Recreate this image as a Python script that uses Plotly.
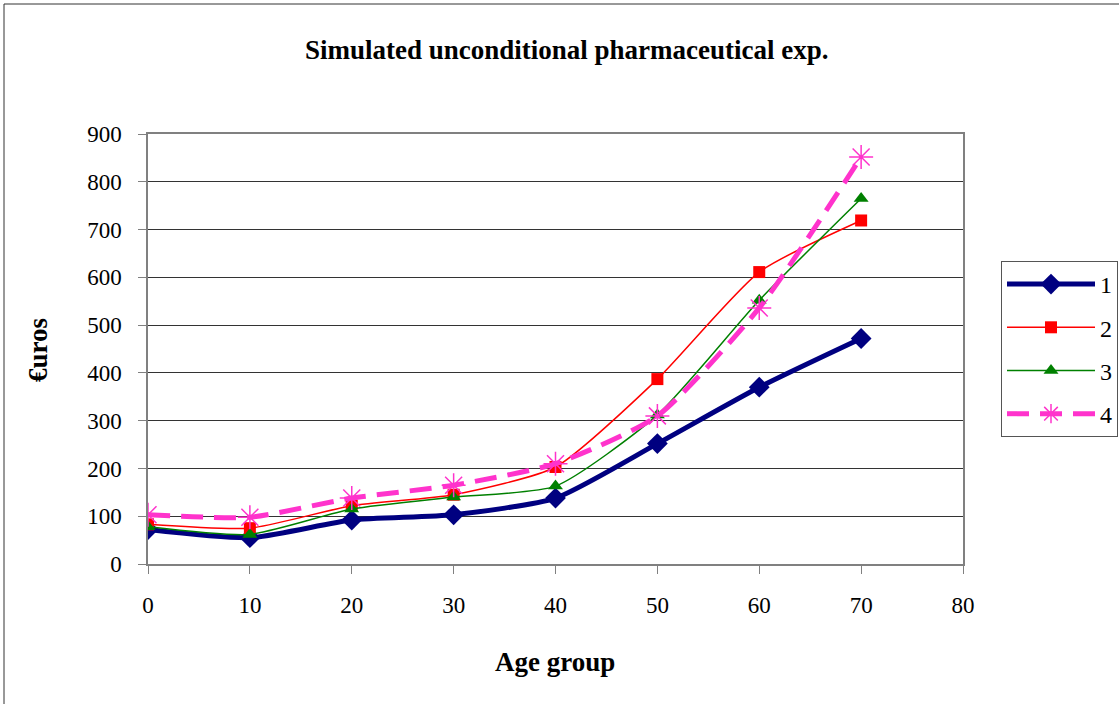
import plotly.graph_objects as go

ages = [0, 10, 20, 30, 40, 50, 60, 70]
s1 = [72, 55, 92, 103, 138, 252, 370, 472]
s2 = [83, 75, 122, 145, 203, 387, 611, 719]
s3 = [78, 62, 115, 140, 163, 312, 552, 765]
s4 = [103, 98, 138, 165, 210, 310, 536, 852]
names = ["1", "2", "3", "4"]

FONT = "Liberation Serif"

fig = go.Figure()
fig.add_trace(go.Scatter(x=ages, y=s1, name=names[0], mode="lines+markers", legendgroup="a",
                         line=dict(color="#000080", width=5, shape="spline", smoothing=0.6),
                         marker=dict(symbol="diamond", size=16, color="#000080")))
fig.add_trace(go.Scatter(x=ages, y=s2, name=names[1], mode="lines+markers", legendgroup="b",
                         line=dict(color="#FF0000", width=1.5, shape="spline", smoothing=0.6),
                         marker=dict(symbol="square", size=12, color="#FF0000")))
fig.add_trace(go.Scatter(x=ages, y=s3, name=names[2], mode="lines+markers", legendgroup="c",
                         line=dict(color="#008000", width=1.5, shape="spline", smoothing=0.6),
                         marker=dict(symbol="triangle-up", size=13, color="#008000")))
fig.add_trace(go.Scatter(x=ages, y=s4, name=names[3], mode="lines+markers", legendgroup="d",
                         line=dict(color="#FF33CC", width=5, dash="22px,11px", shape="spline", smoothing=0.6),
                         marker=dict(symbol="asterisk-open", size=20, line=dict(color="#FF33CC", width=1.5))))

# page-coordinate geometry of the plot area
L, R, T, B = 148, 963, 134, 564
W, H = 1119, 704

fig.update_layout(
    width=W, height=H,
    margin=dict(l=L, r=W - R, t=T, b=H - B, autoexpand=False),
    paper_bgcolor="white", plot_bgcolor="white",
    font=dict(family=FONT, color="black", size=23),
    showlegend=True,
    legend=dict(x=(1001 - L) / (R - L), y=(B - 261) / (B - T), xanchor="left", yanchor="top",
                bordercolor="#555555", borderwidth=1, font=dict(size=24, family=FONT),
                tracegroupgap=9, itemwidth=88),
    xaxis=dict(range=[0, 80], dtick=10, tick0=0, showgrid=False, zeroline=False,
               showline=True, linecolor="#808080", linewidth=1.5, mirror=True,
               ticks="outside", ticklen=8, tickcolor="#808080", ticklabelstandoff=12,
               tickfont=dict(size=23, family=FONT)),
    yaxis=dict(range=[0, 900], dtick=100, tick0=0, showgrid=True, gridcolor="#333333", gridwidth=1,
               zeroline=False, showline=True, linecolor="#808080", linewidth=1.5, mirror=True,
               ticks="outside", ticklen=8, tickcolor="#808080", ticklabelstandoff=12,
               tickfont=dict(size=23, family=FONT)),
    annotations=[
        dict(text="<b>Simulated unconditional pharmaceutical exp.</b>", xref="paper", yref="paper",
             x=(567 - L) / (R - L), y=(B - 50) / (B - T), xanchor="center", yanchor="middle",
             showarrow=False, font=dict(size=27, family=FONT)),
        dict(text="<b>€uros</b>", xref="paper", yref="paper",
             x=(38 - L) / (R - L), y=(B - 350) / (B - T), xanchor="center", yanchor="middle",
             textangle=-90, showarrow=False, font=dict(size=27, family=FONT)),
        dict(text="<b>Age group</b>", xref="paper", yref="paper",
             x=(555 - L) / (R - L), y=(B - 662) / (B - T), xanchor="center", yanchor="middle",
             showarrow=False, font=dict(size=27, family=FONT)),
    ],
    shapes=[
        dict(type="line", xref="paper", yref="paper",
             x0=(4 - L) / (R - L), x1=(4 - L) / (R - L),
             y0=(B - 704) / (B - T), y1=(B - 4) / (B - T),
             line=dict(color="#333333", width=1)),
        dict(type="line", xref="paper", yref="paper",
             x0=(4 - L) / (R - L), x1=(1119 - L) / (R - L),
             y0=(B - 4) / (B - T), y1=(B - 4) / (B - T),
             line=dict(color="#333333", width=1)),
    ],
)

fig.write_html("out.html", config={"displayModeBar": False},
               post_script="document.body.style.margin='0';")
